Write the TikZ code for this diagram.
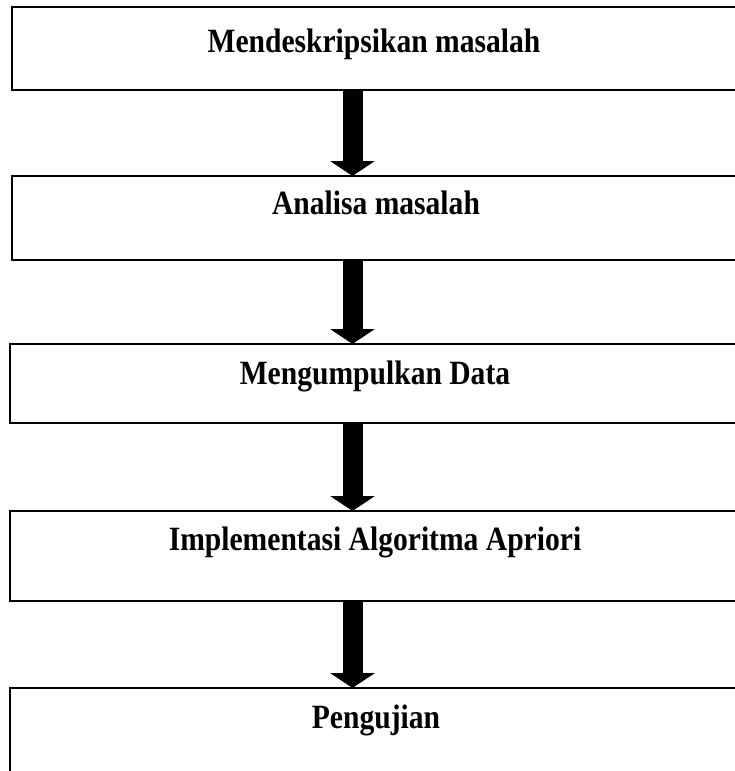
\documentclass[tikz,border=0pt]{standalone}
\usepackage{fontspec}
\setmainfont{Liberation Serif}[FakeStretch=0.87]
\usetikzlibrary{arrows.meta}
\begin{document}
\begin{tikzpicture}[x=1pt,y=-1pt,
  stepbox/.style={draw=black,line width=1.8pt,rectangle,outer sep=0pt,inner sep=0pt,anchor=north west,minimum width=740pt},
  steptext/.style={anchor=base,inner sep=0pt,font=\fontsize{34}{38}\selectfont\bfseries},
  bigarrow/.style={line width=20pt,-{Triangle[width=44pt,length=15pt]},black}]
\useasboundingbox (0,0) rectangle (735,771);
\clip (0,0) rectangle (735,771);
\node[stepbox,minimum height=83pt] (b1) at (12,7) {};
\node[stepbox,minimum height=84pt] (b2) at (12,176) {};
\node[stepbox,minimum height=79pt] (b3) at (10,344) {};
\node[stepbox,minimum height=90pt] (b4) at (10,511) {};
\node[stepbox,minimum height=120pt] (b5) at (10,688) {};
\node[steptext] (t1) at (374,52) {Mendeskripsikan masalah};
\node[steptext] (t2) at (376,214) {Analisa masalah};
\node[steptext] (t3) at (375,384) {Mengumpulkan Data};
\node[steptext] (t4) at (375,550) {Implementasi Algoritma Apriori};
\node[steptext] (t5) at (376,728) {Pengujian};
\coordinate (ax) at (352.5,0);
\draw[bigarrow] (ax |- b1.south) -- (ax |- b2.north);
\draw[bigarrow] (ax |- b2.south) -- (ax |- b3.north);
\draw[bigarrow] (ax |- b3.south) -- (ax |- b4.north);
\draw[bigarrow] (ax |- b4.south) -- (ax |- b5.north);
\end{tikzpicture}
\end{document}
